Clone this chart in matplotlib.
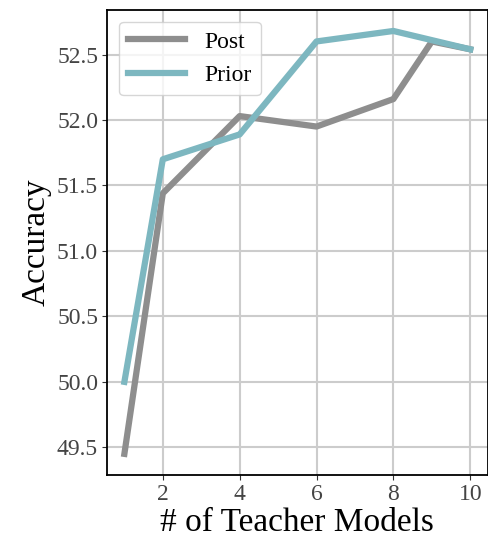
import matplotlib
matplotlib.use('Agg')
import matplotlib.pyplot as plt

plt.rcParams['font.family'] = ['Liberation Serif', 'DejaVu Serif']

# number of teacher models
x_post = [1, 2, 4, 6, 8, 9, 10]
post = [49.45, 51.44, 52.03, 51.95, 52.16, 52.60, 52.54]

x_prior = [1, 2, 4, 6, 8, 9, 10]
prior = [50.00, 51.70, 51.89, 52.60, 52.68, 52.61, 52.54]

fig, ax = plt.subplots(figsize=(4.89, 5.46), dpi=100)
ax.plot(x_post, post, color='#8e8e8e', linewidth=4.5, label='Post')
ax.plot(x_prior, prior, color='#7db7c0', linewidth=4.5, label='Prior')

ax.set_xticks([2, 4, 6, 8, 10])
ax.set_yticks([49.5, 50.0, 50.5, 51.0, 51.5, 52.0, 52.5])
ax.grid(True, color='#cccccc', linewidth=1.5)
ax.set_axisbelow(True)
for s in ax.spines.values():
    s.set_linewidth(1.3)
ax.tick_params(labelsize=17, colors='#333333', labelcolor='#444444', pad=3)
ax.set_xlabel('# of Teacher Models', fontsize=24, labelpad=2)
ax.set_ylabel('Accuracy', fontsize=24, labelpad=4)
ax.legend(loc='upper left', fontsize=17, handlelength=2.4)

fig.subplots_adjust(left=0.219, right=0.997, top=0.982, bottom=0.13)
fig.savefig('out.png')
